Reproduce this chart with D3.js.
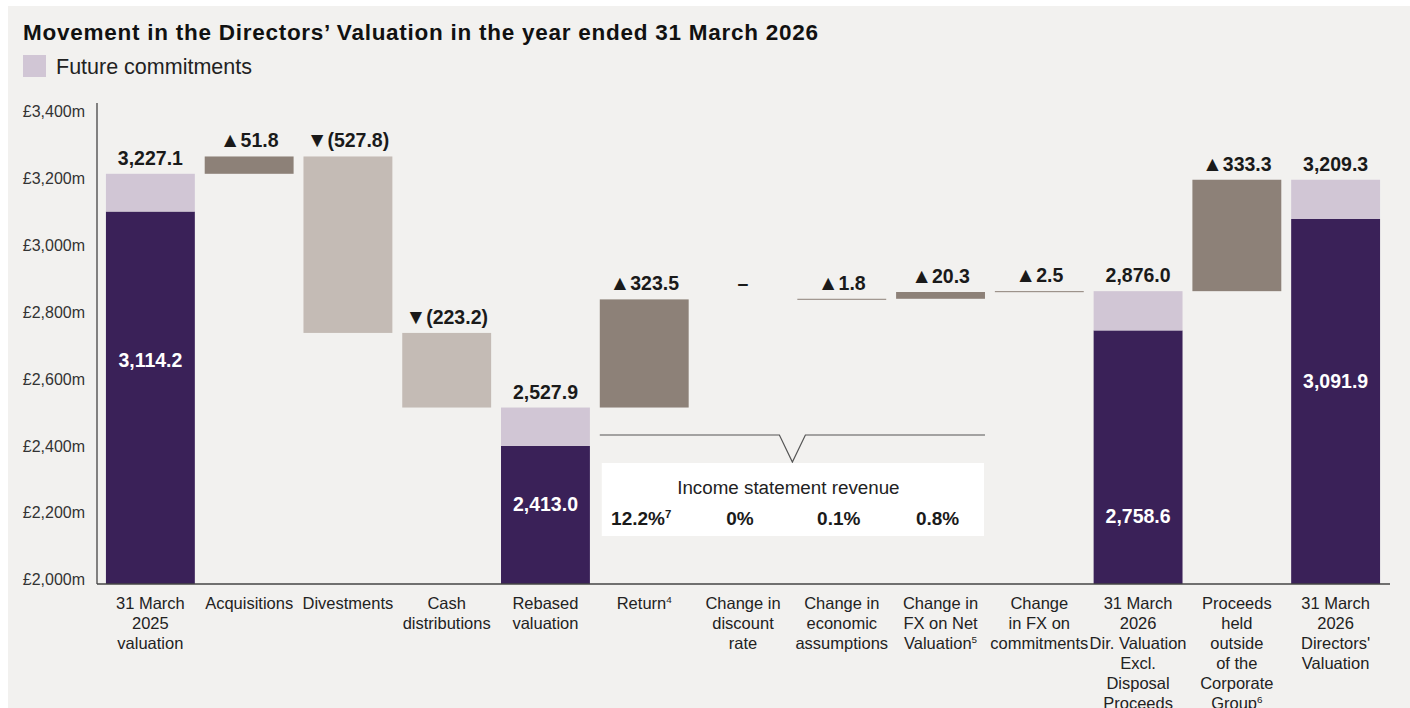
<!DOCTYPE html>
<html>
<head>
<meta charset="utf-8">
<script src="https://cdn.jsdelivr.net/npm/d3@7"></script>
<style>
  html, body { margin: 0; padding: 0; background: #ffffff; }
  svg { display: block; font-family: "Liberation Sans", Arial, "Helvetica Neue", sans-serif; }
</style>
</head>
<body>
<div id="chart"></div>
<script>
// Chart data (£m)
const categories = [
  "31 March|2025|valuation",
  "Acquisitions",
  "Divestments",
  "Cash|distributions",
  "Rebased|valuation",
  "Return^4",
  "Change in|discount|rate",
  "Change in|economic|assumptions",
  "Change in|FX on Net|Valuation^5",
  "Change|in FX on|commitments",
  "31 March|2026|Dir. Valuation|Excl.|Disposal|Proceeds",
  "Proceeds|held|outside|of the|Corporate|Group^6",
  "31 March|2026|Directors'|Valuation"
]
// "total" bars show net valuation + future commitments, "delta" bars float
const barKind = ["total", "delta", "delta", "delta", "total", "delta", "delta", "delta", "delta", "delta", "total", "delta", "total"]
const deltas = [null, 51.8, -527.8, -223.2, null, 323.5, 0, 1.8, 20.3, 2.5, null, 333.3, null]
const totalValues = [3227.1, null, null, null, 2527.9, null, null, null, null, null, 2876.0, null, 3209.3]
const netValues = [3114.2, null, null, null, 2413.0, null, null, null, null, null, 2758.6, null, 3091.9]

const revenueLabels = ["12.2%^7", "0%", "0.1%", "0.8%"]
const revenueCategories = [5, 6, 7, 8]

const yTicks = [2000, 2200, 2400, 2600, 2800, 3000, 3200, 3400]

// layout
const width = 1410
const height = 708
const colors = {
  bg: "#f2f1ef",
  net: "#3a2158",
  commit: "#d1c6d5",
  up: "#8d8178",
  down: "#c4bbb5",
  text: "#1a1a1a",
  axis: "#444"
}
// where the white label sits inside the dark bars (in £m)
const innerLabelAt = {0: 2671, 4: 2238, 10: 2202, 12: 2608}

const svg = d3.select("#chart").append("svg").attr("width", width).attr("height", height)
svg.append("rect").attr("x", 8).attr("y", 6).attr("width", width - 8).attr("height", height - 6).attr("fill", colors.bg)

// title + legend
svg.append("text").attr("x", 23).attr("y", 40)
  .attr("font-size", 22.5).attr("font-weight", "bold").attr("fill", "#111")
  .attr("textLength", 795).attr("lengthAdjust", "spacing")
  .text("Movement in the Directors’ Valuation in the year ended 31 March 2026")
svg.append("rect").attr("x", 23).attr("y", 55).attr("width", 23).attr("height", 22).attr("fill", colors.commit)
svg.append("text").attr("x", 56).attr("y", 74).attr("font-size", 21.5).attr("fill", "#222").text("Future commitments")

const x = d3.scaleBand().domain(d3.range(categories.length)).range([101, 1385]).paddingInner(0.1).paddingOuter(0.05)
const y = d3.scaleLinear().domain([2000, 3400]).range([584, 116])

// y axis
const yAxis = svg.append("g").attr("transform", "translate(97,0)")
  .call(d3.axisLeft(y).tickValues(yTicks).tickSize(0).tickPadding(12).tickFormat(d => "£" + d3.format(",")(d) + "m"))
yAxis.select(".domain").remove()
yAxis.selectAll("text").attr("font-size", 16).attr("fill", "#333").attr("font-family", "Liberation Sans, Arial, sans-serif").attr("dy", "0.05em")

// running waterfall
let running = 0
const bars = categories.map((c, i) => {
  if (barKind[i] === "total") {
    running = totalValues[i]
    return {i, kind: "total", top: totalValues[i], net: netValues[i]}
  }
  const start = running
  running = start + deltas[i]
  return {i, kind: "delta", start, end: running, delta: deltas[i]}
})

const g = svg.append("g")

// totals: net valuation + commitments
const totals = bars.filter(d => d.kind === "total")
g.selectAll(".net").data(totals).join("rect")
  .attr("x", d => x(d.i)).attr("width", x.bandwidth())
  .attr("y", d => y(d.net)).attr("height", d => y(2000) - y(d.net))
  .attr("fill", colors.net)
g.selectAll(".commit").data(totals).join("rect")
  .attr("x", d => x(d.i)).attr("width", x.bandwidth())
  .attr("y", d => y(d.top)).attr("height", d => y(d.net) - y(d.top))
  .attr("fill", colors.commit)

// floating movements
const moves = bars.filter(d => d.kind === "delta" && d.delta !== 0)
g.selectAll(".move").data(moves).join("rect")
  .attr("x", d => x(d.i)).attr("width", x.bandwidth())
  .attr("y", d => y(Math.max(d.start, d.end)))
  .attr("height", d => Math.max(1, Math.abs(y(d.start) - y(d.end))))
  .attr("fill", d => d.delta > 0 ? colors.up : colors.down)

// axis lines
svg.append("line").attr("x1", 97).attr("x2", 97).attr("y1", 103).attr("y2", y(2000)).attr("stroke", colors.axis).attr("stroke-width", 1.3)
svg.append("line").attr("x1", 97).attr("x2", 1390).attr("y1", y(2000)).attr("y2", y(2000)).attr("stroke", colors.axis).attr("stroke-width", 1.3)

// value labels above bars
const fmt = d3.format(",.1f")
const valueLabels = g.selectAll(".val").data(bars).join("text")
  .attr("x", d => x(d.i) + x.bandwidth() / 2)
  .attr("y", d => y(d.kind === "total" ? d.top : Math.max(d.start, d.end)) - 9)
  .attr("text-anchor", "middle").attr("font-size", 19.5).attr("font-weight", "bold").attr("fill", colors.text)
valueLabels.each(function(d) {
  const t = d3.select(this)
  if (d.kind === "total") { t.text(fmt(d.top)); return }
  if (d.delta === 0) { t.text("–"); return }
  t.append("tspan").attr("font-size", 21).text(d.delta > 0 ? "▲" : "▼")
  t.append("tspan").text(d.delta > 0 ? fmt(d.delta) : "(" + fmt(-d.delta) + ")")
})

// white labels inside the dark segment
g.selectAll(".inner").data(totals).join("text")
  .attr("x", d => x(d.i) + x.bandwidth() / 2)
  .attr("y", d => y(innerLabelAt[d.i]) + 7)
  .attr("text-anchor", "middle").attr("font-size", 19.5).attr("font-weight", "bold").attr("fill", "#fff")
  .text(d => fmt(d.net))

// text with ^n superscripts
function addLine(sel, str) {
  const parts = str.split("^")
  sel.append("tspan").text(parts[0])
  if (parts[1]) sel.append("tspan").attr("font-size", "0.6em").attr("dy", "-0.65em").text(parts[1])
}

// x labels
categories.forEach((c, i) => {
  c.split("|").forEach((line, k) => {
    const t = svg.append("text")
      .attr("x", x(i) + x.bandwidth() / 2).attr("y", 609 + k * 20)
      .attr("text-anchor", "middle").attr("font-size", 16.5).attr("fill", "#222")
    addLine(t, line)
  })
})

// income statement revenue bracket
const bx0 = x(revenueCategories[0])
const bx1 = x(revenueCategories[revenueCategories.length - 1]) + x.bandwidth()
const bmid = (bx0 + bx1) / 2
const by = 435
svg.append("path")
  .attr("d", `M${bx0},${by}H${bmid - 13}L${bmid},${by + 27}L${bmid + 13},${by}H${bx1}`)
  .attr("fill", "none").attr("stroke", "#555").attr("stroke-width", 1.2)
svg.append("rect").attr("x", bx0 + 2).attr("y", by + 28).attr("width", bx1 - bx0 - 3).attr("height", 73).attr("fill", "#fff")
svg.append("text").attr("x", bmid - 4).attr("y", by + 59).attr("text-anchor", "middle")
  .attr("font-size", 18.8).attr("fill", "#222").text("Income statement revenue")
revenueLabels.forEach((r, k) => {
  const t = svg.append("text")
    .attr("x", x(revenueCategories[k]) + x.bandwidth() / 2 - 3).attr("y", by + 90)
    .attr("text-anchor", "middle").attr("font-size", 19).attr("font-weight", "bold").attr("fill", colors.text)
  addLine(t, r)
})
</script>
</body>
</html>
